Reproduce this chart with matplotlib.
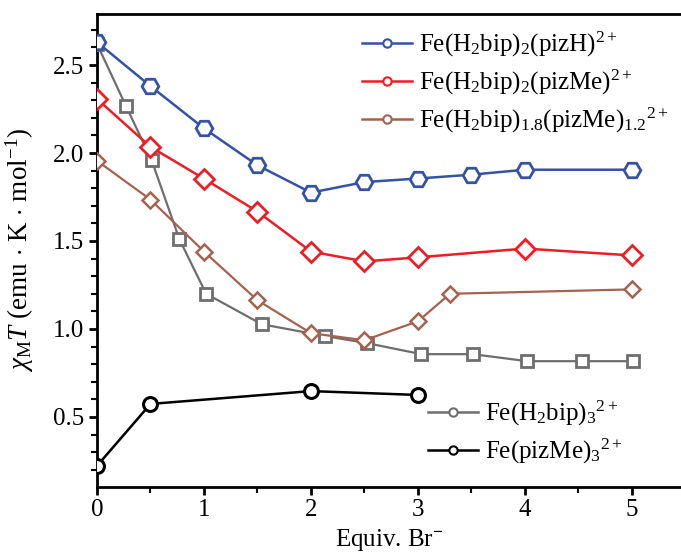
import matplotlib
matplotlib.use("Agg")
import matplotlib.pyplot as plt
from matplotlib.lines import Line2D
from matplotlib.ticker import MultipleLocator

plt.rcParams['font.family'] = ['Liberation Serif', 'DejaVu Serif']
plt.rcParams['mathtext.fontset'] = 'custom'
plt.rcParams['mathtext.rm'] = 'Liberation Serif'
plt.rcParams['mathtext.it'] = 'Liberation Serif:italic'
plt.rcParams['mathtext.bf'] = 'Liberation Serif:bold'

# data
x_pizH = [0, 0.5, 1, 1.5, 2, 2.5, 3, 3.5, 4, 5]
y_pizH = [2.63, 2.38, 2.14, 1.93, 1.775, 1.835, 1.855, 1.877, 1.905, 1.905]

x_pizMe = [0, 0.5, 1, 1.5, 2, 2.5, 3, 4, 5]
y_pizMe = [2.307, 2.035, 1.854, 1.667, 1.44, 1.384, 1.407, 1.457, 1.418]

x_mix = [0, 0.5, 1, 1.5, 2, 2.5, 3, 3.3, 5]
y_mix = [1.956, 1.735, 1.44, 1.163, 0.976, 0.936, 1.044, 1.20, 1.225]

x_bip3 = [0, 0.27, 0.51, 0.77, 1.02, 1.54, 2.13, 2.52, 3.03, 3.51, 4.02, 4.53, 5.01]
y_bip3 = [2.62, 2.268, 1.96, 1.51, 1.20, 1.027, 0.96, 0.92, 0.857, 0.857, 0.817, 0.817, 0.817]

x_pizMe3 = [0, 0.5, 2, 3]
y_pizMe3 = [0.222, 0.574, 0.647, 0.625]

labels = [r'Fe(H$_2$bip)$_2$(pizH)$^{2+}$',
          r'Fe(H$_2$bip)$_2$(pizMe)$^{2+}$',
          r'Fe(H$_2$bip)$_{1.8}$(pizMe)$_{1.2}$$^{2+}$',
          r'Fe(H$_2$bip)$_3$$^{2+}$',
          r'Fe(pizMe)$_3$$^{2+}$']

c_blue = '#3552a3'
c_red = '#ee1c25'
c_brown = '#a5624f'
c_gray = '#6e6e6e'
c_black = '#000000'

FS = 18

fig = plt.figure(figsize=(6.81, 5.52), dpi=100)
ax = fig.add_axes([97/681, 1-487/552, 1-97/681, (487-14)/552])

ax.plot(x_bip3, y_bip3, color=c_gray, lw=1.6, marker='s', ms=9, mfc='white', mec=c_gray, mew=2, zorder=3)
ax.plot(x_mix, y_mix, color=c_brown, lw=1.6, marker='D', ms=8, mfc='white', mec=c_brown, mew=1.8, zorder=4)
ax.plot(x_pizMe, y_pizMe, color=c_red, lw=1.8, marker='D', ms=10, mfc='white', mec=c_red, mew=2, zorder=5)
ax.plot(x_pizH, y_pizH, color=c_blue, lw=1.8, marker='H', ms=12, mfc='white', mec=c_blue, mew=2, zorder=6)
ax.plot(x_pizMe3, y_pizMe3, color=c_black, lw=1.8, marker='o', ms=10, mfc='white', mec=c_black, mew=2.2, zorder=5)

ax.set_xlim(0, 5.458)
ax.set_ylim(0.102, 2.79)
ax.xaxis.set_major_locator(MultipleLocator(1))
ax.xaxis.set_minor_locator(MultipleLocator(0.5))
ax.yaxis.set_minor_locator(MultipleLocator(0.1))
ax.set_yticks([0.5, 1.0, 1.5, 2.0, 2.5])
ax.set_yticklabels(['0.5', '1.0', '1.5', '2.0', '2.5'])
ax.tick_params(which='major', direction='out', length=6, width=2, labelsize=FS, pad=3)
ax.tick_params(which='minor', direction='out', length=4, width=1.5)
ax.spines['right'].set_visible(False)
for s in ['left', 'bottom', 'top']:
    ax.spines[s].set_linewidth(2)

ax.set_xlabel(r'Equiv. Br$^{\mathbf{-}}$', fontsize=FS)
ax.xaxis.set_label_coords(0.5, -0.085)
ax.set_ylabel(r'$\chi_{\rm M}T$ (emu $\cdot$ K $\cdot$ mol$^{-1}$)', fontsize=19.5)
ax.yaxis.set_label_coords(-0.105, 0.5)

def handle(c):
    return Line2D([], [], color=c, lw=1.8, marker='o', ms=6, mfc='white', mec=c, mew=1.5)

leg1 = fig.legend([handle(c_blue), handle(c_red), handle(c_brown)], labels[:3],
                  loc='upper left', bbox_to_anchor=(362/681, 1-30/552), frameon=False,
                  fontsize=FS, handlelength=2.0, handletextpad=0.28, labelspacing=0.36,
                  borderpad=0, borderaxespad=0)
leg2 = fig.legend([handle(c_gray), handle(c_black)], labels[3:],
                  loc='upper left', bbox_to_anchor=(428/681, 1-399/552), frameon=False,
                  fontsize=FS, handlelength=2.0, handletextpad=0.28, labelspacing=0.36,
                  borderpad=0, borderaxespad=0)

fig.savefig('out.png', dpi=100)
